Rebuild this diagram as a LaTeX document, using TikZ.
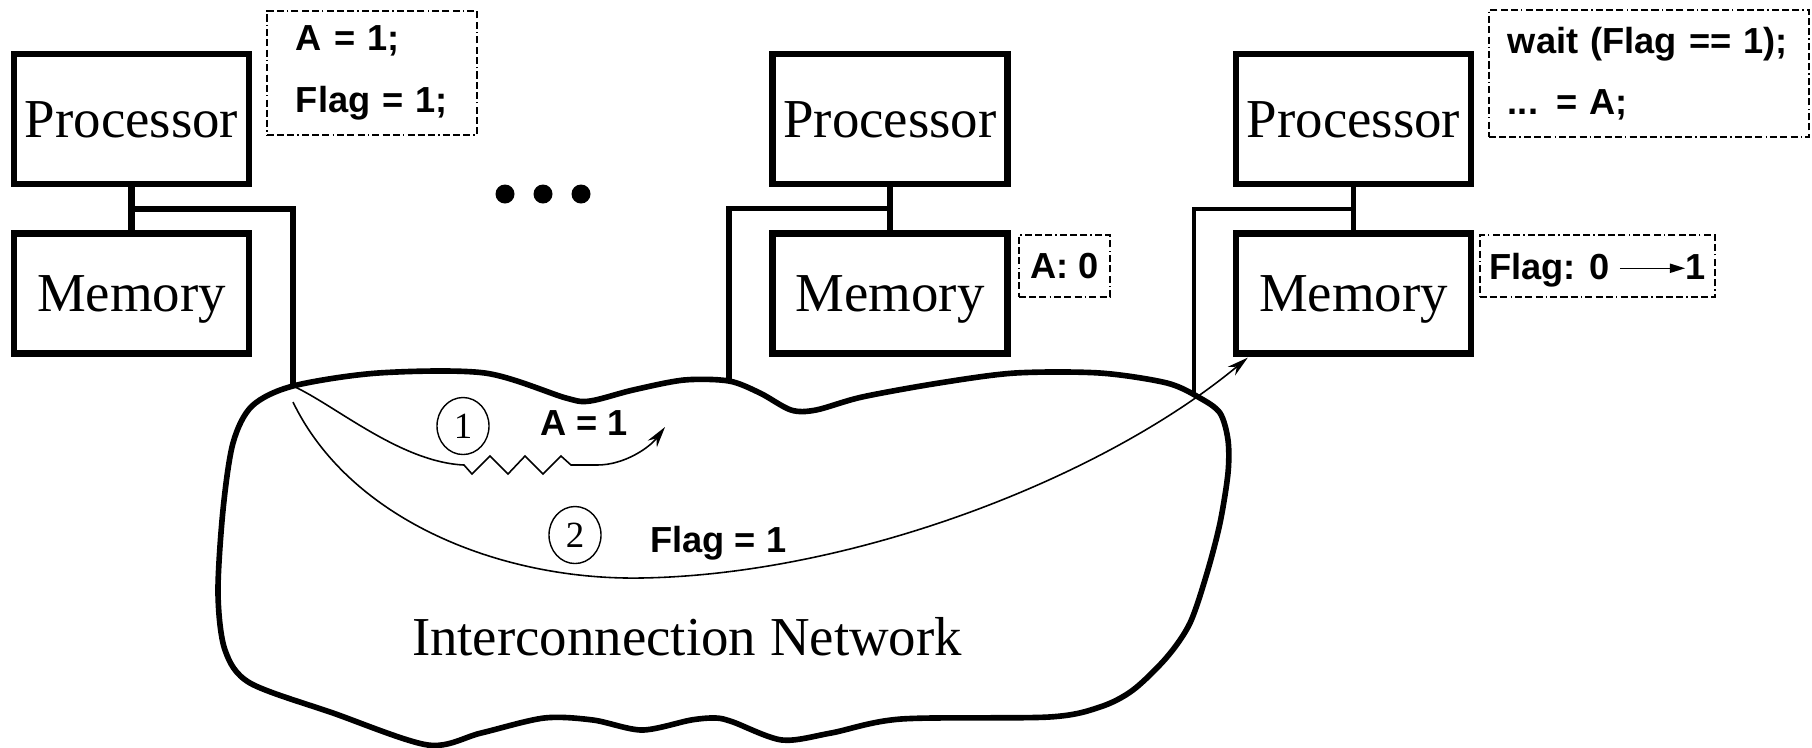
\documentclass[tikz,border=0pt]{standalone}
\usepackage{fontspec}
\setmainfont{Liberation Serif}
\setsansfont{Liberation Sans}
\usetikzlibrary{positioning,shapes.geometric,arrows.meta,calc}

\tikzset{
    block/.style={draw, line width=1.8pt, minimum width=2.35cm, inner sep=0pt,
        font=\fontsize{15.6}{18}\selectfont, text height=10.3pt, text depth=0pt},
    cpu/.style={block, minimum height=1.3cm},
    ram/.style={block, minimum height=1.2cm},
    bus/.style={line width=1.5pt},
    note/.style={draw, line width=0.5pt,
        dash pattern=on 2pt off 0.9pt on 2pt off 0.9pt on 2pt off 0.9pt on 0.4pt off 0.9pt,
        font=\sffamily\bfseries\fontsize{10.3}{17.4}\selectfont},
    num/.style={draw, ellipse, line width=0.4pt, inner sep=0pt,
        minimum width=0.52cm, minimum height=0.57cm, font=\fontsize{10.5}{12}\selectfont},
    lbl/.style={anchor=base west, font=\sffamily\bfseries\fontsize{10.3}{12}\selectfont},
    msg/.style={line width=0.45pt, -{Stealth[length=6pt,width=3.2pt]}},
}

\begin{document}
\begin{tikzpicture}[x=0.01cm, y=-0.01cm]
            \useasboundingbox (0,0) rectangle (1812,747);

            \node[cpu] (p1) at (131.5,119) {Processor};
            \node[ram, below=0.43cm of p1] (m1) {Memory};
            \node[cpu] (p2) at (890,119) {Processor};
            \node[ram, below=0.43cm of p2] (m2) {Memory};
            \node[cpu] (p3) at (1353.5,119) {Processor};
            \node[ram, below=0.43cm of p3] (m3) {Memory};

            \node[note, anchor=north west, text width=1.52cm, inner xsep=0.29cm,
                minimum height=1.24cm, align=left] (c1) at (266,10) {A = 1;\\Flag = 1;};
            \node[note, anchor=north west, text width=2.82cm, inner xsep=0.19cm,
                minimum height=1.27cm, align=left] (c3) at (1488,9) {wait (Flag == 1);\\... = A;};
            \node[note, minimum width=0.91cm, minimum height=0.62cm, inner sep=0pt,
                text depth=0pt] (v2) at (1064.5,266) {A: 0};
            \node[note, minimum width=2.35cm, minimum height=0.62cm, inner sep=0pt,
                text depth=0pt] (v3) at (1597.5,266) {Flag: 0 \tikz[baseline=-0.3em]\draw[solid, line width=0.4pt,
                -{Triangle[length=4.3pt,width=2.6pt]}] (0pt,0pt) -- (1.8em,0pt);1};

            \foreach \x in {505,543,581}
                \fill (\x,194) circle (0.095cm);

            \coordinate (j1) at (293,386);
            \coordinate (j2) at (729,381);
            \coordinate (j3) at (1194,394);
            \draw[line width=1.6pt] plot[smooth cycle, tension=0.5] coordinates {
                (293,386) (378,373) (485,373) (566,398) (590,401) (633,390) (684,380)
                (729,381) (760,393) (791,410) (816,410) (862,397) (939,383) (1015,373)
                (1100,373) (1167,383) (1200,398) (1220,413) (1228,440) (1228,473)
                (1220,523) (1207,573) (1190,623) (1167,657) (1133,690) (1100,707)
                (1049,717) (901,719) (831,733) (782,740) (733,722) (716,718) (691,720)
                (642,730) (593,720) (544,718) (481,733) (428,745) (333,713) (250,683)
                (225,650) (218,593) (223,510) (233,443) (252,406)};
            \node[font=\fontsize{15.6}{18}\selectfont, anchor=base] (net) at (687,655) {Interconnection Network};

            \draw[bus, line width=1.8pt] (p1) -- (m1);
            \draw[bus, line width=1.8pt] (j1) |- ($(p1.south)!0.5!(m1.north)$);
            \draw[bus] (p2) -- (m2);
            \draw[bus] (j2) |- ($(p2.south)!0.5!(m2.north)$);
            \draw[bus, line width=1.2pt] (p3) -- (m3);
            \draw[bus, line width=1.2pt] (j3) |- ($(p3.south)!0.5!(m3.north)$);

            \node[num] (n1) at (463,426) {1};
            \node[lbl] (t1) at (528,435) {A = 1};
            \node[num] (n2) at (575,535) {2};
            \node[lbl] (t2) at (638,552) {Flag = 1};

            \coordinate (a1) at (665,427);
            \coordinate[below=0.16cm of j1] (s2);
            \coordinate (f3) at ($(m3.south west)+(15,1)$);
            \draw[msg] (j1) .. controls (335,405) and (400,462) .. (464,465) -- (472,474) -- (490,456)
                -- (508,474) -- (525,456) -- (543,474) -- (561,456) -- (571,465) -- (597,465)
                .. controls (625,465) and (650,447) .. (a1);
            \draw[msg] (s2) .. controls (350,520) and (500,580) .. (640,578)
                .. controls (850,575) and (1100,480) .. (f3);
        \end{tikzpicture}
\end{document}
